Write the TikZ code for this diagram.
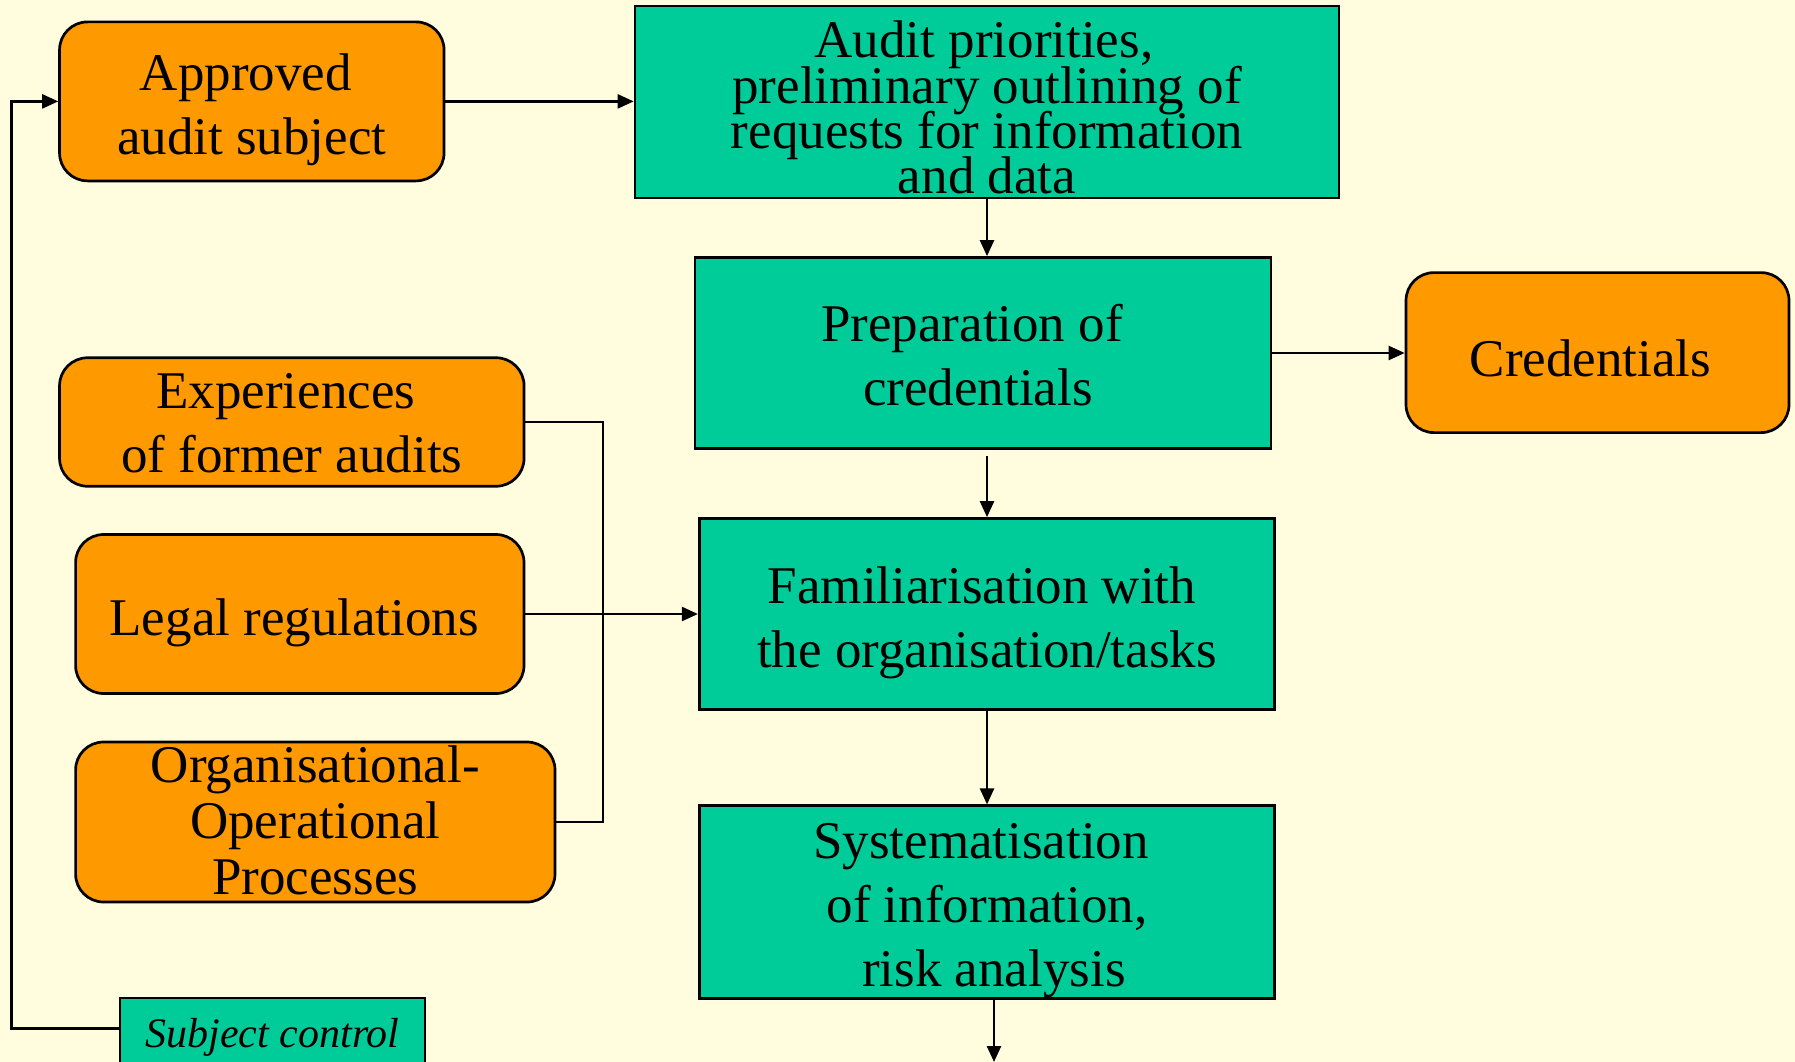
\documentclass[tikz,border=0pt]{standalone}
\usepackage{fontspec}
\setmainfont{Liberation Serif}
\usetikzlibrary{arrows.meta}

\definecolor{bgcream}{HTML}{FFFDDE}
\definecolor{amber}{HTML}{FF9900}
\definecolor{jade}{HTML}{00CC99}

% struts that fix the top and bottom extent of a node's text block
\newcommand{\hi}[1]{\rule{0pt}{#1pt}}
\newcommand{\lo}[1]{\rule[-#1pt]{0pt}{#1pt}}
% horizontal nudge of a single centred line
\newcommand{\pad}[1]{\hspace*{#1pt}}
% fixed baseline distance regardless of glyph heights
\newcommand{\tightlines}{\lineskiplimit=-200pt\relax}

\begin{document}
\begin{tikzpicture}[x=1pt,y=-1pt,
  boxtext/.style={font={\fontsize{53}{64}\selectfont\tightlines}},
  orangebox/.style={boxtext, draw=black, line width=2.7pt, fill=amber,
    rounded corners=28pt, inner sep=0pt, align=center},
  greenbox/.style={boxtext, draw=black, line width=2.7pt, fill=jade,
    inner sep=0pt, align=center},
  conn/.style={line width=2.4pt},
  arr/.style={conn, -{Triangle[length=16pt,width=14pt]}}]

\path[use as bounding box] (0,0) rectangle (1795,1062);
\clip (0,0) rectangle (1795,1062);
\fill[bgcream] (0,0) rectangle (1795,1062);

% input boxes
\node[orangebox, minimum width=384.5pt, minimum height=159pt] (approved) at (251.8,101.4)
  {\hi{58}Approved\pad{12}\\audit subject\lo{15}};
\node[orangebox, minimum width=464.5pt, minimum height=128.5pt] (exp) at (291.8,422)
  {\hi{50}Experiences\pad{12}\\of former audits\lo{13}};
\node[orangebox, minimum width=448.4pt, minimum height=159pt] (legal) at (299.8,614)
  {\hi{57}Legal regulations\pad{11}\lo{15}};
\node[orangebox, minimum width=479.4pt, minimum height=160pt,
      font={\fontsize{53}{56}\selectfont\tightlines}] (org) at (315.3,822)
  {\hi{40}Organisational-\\Operational\pad{10}\\Processes\lo{8}};
\node[orangebox, minimum width=383pt, minimum height=160pt] (cred) at (1597.5,352.6)
  {\hi{63}Credentials\pad{14}\lo{15}};

% process steps
\node[greenbox, minimum width=704pt, minimum height=192pt,
      font={\fontsize{53}{45}\selectfont\tightlines}] (audit) at (987,102)
  {\hi{50}Audit priorities,\pad{6}\\preliminary outlining of\\requests for information\\and data\lo{3}};
\node[greenbox, minimum width=576pt, minimum height=191pt] (prep) at (983,353)
  {\hi{55}Preparation of\pad{22}\\credentials\pad{10}\lo{15}};
\node[greenbox, minimum width=575.5pt, minimum height=191pt] (fam) at (987,614)
  {\hi{57}Familiarisation with\pad{10}\\the organisation/tasks\lo{15}};
\node[greenbox, minimum width=575.5pt, minimum height=192pt] (sys) at (987,902)
  {\hi{53}Systematisation\pad{12}\\of information,\\\pad{14}risk analysis\lo{11}};

% feedback box
\node[greenbox, minimum width=305pt, minimum height=80pt,
      font={\fontsize{42}{50}\selectfont\itshape}] (sc) at (272.5,1038)
  {\hi{30}Subject control\lo{12}};

% helper coordinates
\coordinate (rail) at (11.4,0);
\coordinate (bus) at (603,0);
\coordinate (pagefoot) at (0,1062);
\coordinate (pf) at ([yshift=-6pt]prep.south);
\coordinate (sysout) at ([xshift=7pt]sys.south);

% connectors
\draw[arr] ([yshift=-32pt]sc.north west) -| (rail |- approved.west) -- (approved.west);
\draw[arr] (approved.east) -- (approved.east -| audit.west);
\draw[arr] (audit.south) -- (audit.south |- prep.north);
\draw[arr] (prep.east) -- (prep.east -| cred.west);
\draw[arr] (fam.north |- pf) -- (fam.north);
\draw[conn] (exp.east) -| (bus |- org.east) -- (org.east);
\draw[arr] (legal.east) -- (fam.west);
\draw[arr] (fam.south) -- (sys.north);
\draw[arr] (sysout) -- (sysout |- pagefoot);
\end{tikzpicture}
\end{document}
